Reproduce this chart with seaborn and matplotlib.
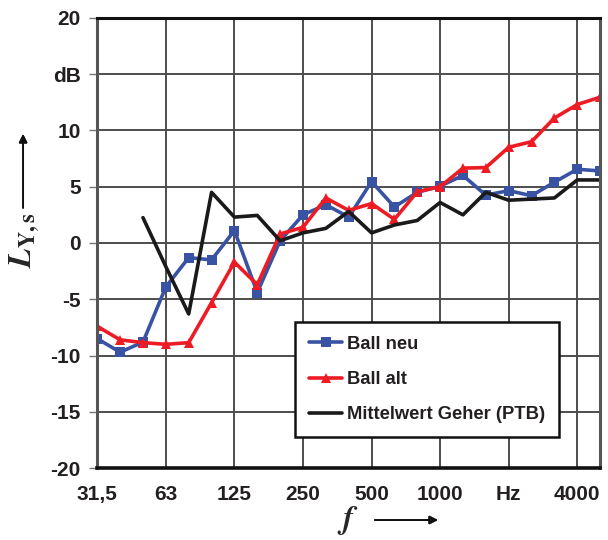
import numpy as np
import pandas as pd
import seaborn as sns
import matplotlib.pyplot as plt

# third-octave bands 31,5 Hz ... 5000 Hz
bands = ['31,5', '40', '50', '63', '80', '100', '125', '160', '200', '250', '315', '400',
         '500', '630', '800', '1000', '1250', '1600', '2000', '2500', '3150', '4000', '5000']
ball_neu = [-8.5, -9.7, -8.8, -3.9, -1.3, -1.5, 1.1, -4.4, 0.2, 2.5, 3.4, 2.3,
            5.45, 3.2, 4.5, 5.05, 6.0, 4.25, 4.65, 4.2, 5.4, 6.55, 6.4]
ball_alt = [-7.4, -8.6, -8.85, -9.0, -8.85, -5.3, -1.7, -3.7, 0.8, 1.4, 4.0, 2.9,
            3.5, 2.1, 4.55, 5.0, 6.65, 6.7, 8.5, 9.0, 11.1, 12.3, 12.95]
mittelwert = [np.nan, np.nan, 2.25, -2.1, -6.3, 4.5, 2.3, 2.45, 0.2, 0.9, 1.3, 2.8,
              0.9, 1.6, 2.0, 3.6, 2.5, 4.5, 3.8, 3.9, 4.0, 5.6, 5.6]
tick_bands = ['31,5', '63', '125', '250', '500', '1000', '2000', '4000']
tick_labels = ['31,5', '63', '125', '250', '500', '1000', 'Hz', '4000']
y_ticks = [-20, -15, -10, -5, 0, 5, 10, 15, 20]
y_labels = ['-20', '-15', '-10', '-5', '0', '5', '10', 'dB', '20']

df = pd.DataFrame({'band': bands, 'pos': np.arange(len(bands)),
                   'Ball neu': ball_neu, 'Ball alt': ball_alt,
                   'Mittelwert Geher (PTB)': mittelwert})

sns.set_style('white')
plt.rcParams['font.family'] = ['Liberation Sans', 'DejaVu Sans']
plt.rcParams['font.weight'] = 'bold'
plt.rcParams['mathtext.fontset'] = 'stix'

fig = plt.figure(figsize=(6.08, 5.4), dpi=100)
ax = fig.add_axes([0.16, 0.133, 0.827, 0.834])

sns.lineplot(data=df, x='pos', y='Ball neu', ax=ax, color='#3953a4', lw=2.6,
             marker='s', markersize=7, markeredgewidth=0, label='Ball neu')
sns.lineplot(data=df, x='pos', y='Ball alt', ax=ax, color='#ed1c24', lw=2.6,
             marker='^', markersize=7.5, markeredgewidth=0, label='Ball alt')
sns.lineplot(data=df.dropna(), x='pos', y='Mittelwert Geher (PTB)', ax=ax,
             color='#1a1a1a', lw=2.6, label='Mittelwert Geher (PTB)')

ax.set_xlim(0, len(bands) - 1)
ax.set_ylim(-20, 20)
tick_pos = [bands.index(b) for b in tick_bands]
ax.set_xticks(tick_pos)
ax.set_xticklabels(tick_labels, fontsize=15, fontweight='bold', color='#231f20')
ax.set_yticks(y_ticks)
ax.set_yticklabels(y_labels, fontsize=15, fontweight='bold', color='#231f20')
ax.tick_params(axis='x', length=0, pad=12)
ax.tick_params(axis='y', length=6, width=1, color='#777777', pad=6, left=True)
ax.grid(True, color='#4d4d4d', lw=1.4)
ax.set_axisbelow(True)
for side, c, w in [('left', '#555555', 2.2), ('bottom', '#111111', 2.6),
                   ('top', '#111111', 2.2), ('right', '#555555', 2.2)]:
    ax.spines[side].set_visible(True)
    ax.spines[side].set_color(c)
    ax.spines[side].set_linewidth(w)
ax.set_xlabel('')
ax.set_ylabel('')

leg = ax.legend(loc='lower left', bbox_to_anchor=(0.394, 0.069), frameon=True,
                fancybox=False, edgecolor='#111111', framealpha=1,
                prop={'size': 13.2, 'weight': 'bold'}, handlelength=1.8,
                handletextpad=0.25, labelspacing=1.0, borderpad=0.75,
                borderaxespad=0)
leg.get_frame().set_linewidth(1.8)
for t in leg.get_texts():
    t.set_color('#231f20')

# axis labels with arrows
fig.text(0.04, 0.555, r'$L_{\mathbf{Y,s}}$', rotation=90, fontsize=23,
         ha='center', va='center')
fig.add_artist(plt.annotate('', xy=(0.038, 0.757), xytext=(0.038, 0.61),
                            xycoords='figure fraction',
                            arrowprops=dict(arrowstyle='-|>', color='#111111',
                                            lw=1.3, mutation_scale=12)))
fig.text(0.572, 0.036, r'$f$', fontsize=23, ha='center', va='center')
fig.add_artist(plt.annotate('', xy=(0.725, 0.037), xytext=(0.612, 0.037),
                            xycoords='figure fraction',
                            arrowprops=dict(arrowstyle='-|>', color='#111111',
                                            lw=1.3, mutation_scale=12)))

fig.savefig('out.png', dpi=100)
